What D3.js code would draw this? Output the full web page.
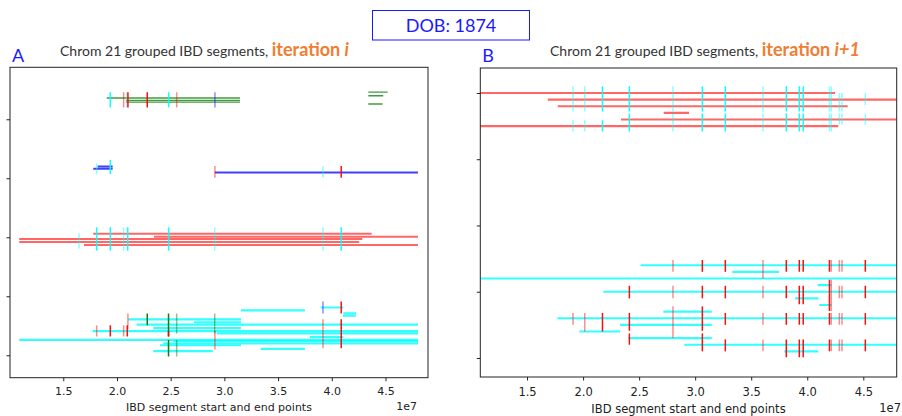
<!DOCTYPE html>
<html>
<head>
<meta charset="utf-8">
<script src="https://cdn.jsdelivr.net/npm/d3@7/dist/d3.min.js"></script>
<style>
  body { margin: 0; background: #fff; }
  svg { display: block; }
</style>
</head>
<body>
<div id="chart"></div>
<script>
// x values are in units of 1e7 bp, rows are the plot's y units
var xTicks = [1.5, 2.0, 2.5, 3.0, 3.5, 4.0, 4.5]
var yTicks = [0, 1, 2, 3, 4]

// panel A segments: [row, start, end, group]
var segmentsA = [
  [4.36, 1.904, 3.145, 'g'], [4.32, 2.083, 3.145, 'g'], [4.29, 2.083, 3.145, 'g'],
  [4.46, 4.340, 4.520, 'g'], [4.40, 4.340, 4.479, 'g'], [4.26, 4.340, 4.473, 'g'],
  [3.20, 1.820, 1.960, 'b'], [3.16, 1.779, 1.960, 'b'], [3.10, 2.912, 4.803, 'b'],
  [2.06, 1.779, 4.371, 'r'], [2.01, 2.345, 4.803, 'r'], [1.97, 1.090, 4.284, 'r'],
  [1.92, 1.090, 4.256, 'r'], [1.87, 1.693, 4.803, 'r'],
  [0.81, 3.897, 4.107, 'c'], [0.76, 3.155, 3.750, 'c'], [0.71, 4.107, 4.225, 'c'],
  [0.67, 4.101, 4.225, 'c'], [0.61, 2.105, 3.155, 'c'], [0.56, 2.717, 3.155, 'c'],
  [0.52, 2.183, 4.803, 'c'], [0.46, 2.338, 3.155, 'c'], [0.41, 1.774, 4.803, 'c'],
  [0.37, 2.928, 4.803, 'c'], [0.31, 3.797, 4.107, 'c'], [0.26, 1.090, 4.803, 'c'],
  [0.24, 2.524, 4.803, 'c'], [0.20, 2.431, 4.803, 'c'], [0.17, 2.400, 3.155, 'c'],
  [0.11, 3.338, 3.750, 'c'], [0.07, 2.338, 2.891, 'c']
]

// panel A end point marks: [position, row low, row high, group, count]
var marksA = [
  [1.938, 4.20, 4.46, 'c', 2], [2.062, 4.20, 4.46, 'r', 1], [2.090, 4.20, 4.46, 'c', 1],
  [2.102, 4.20, 4.46, 'r', 2], [2.282, 4.20, 4.46, 'r', 2], [2.481, 4.20, 4.46, 'c', 2],
  [2.556, 4.20, 4.46, 'r', 1], [2.912, 4.20, 4.46, 'b', 1],
  [1.811, 3.07, 3.25, 'c', 1], [1.938, 3.07, 3.31, 'c', 2], [2.912, 3.01, 3.21, 'r', 1],
  [3.918, 3.01, 3.21, 'c', 1], [4.088, 3.01, 3.21, 'r', 2],
  [1.646, 1.81, 2.07, 'c', 1], [1.811, 1.77, 2.17, 'c', 2], [1.938, 1.77, 2.17, 'c', 2],
  [2.062, 1.77, 2.17, 'c', 1], [2.100, 1.77, 2.17, 'c', 2], [2.481, 1.77, 2.17, 'c', 2],
  [2.910, 1.77, 2.17, 'c', 1], [3.918, 1.77, 2.17, 'c', 1], [4.088, 1.77, 2.17, 'c', 2],
  [3.918, 0.71, 0.91, 'b', 1], [4.088, 0.71, 0.91, 'r', 2], [2.102, 0.44, 0.71, 'r', 1],
  [2.096, 0.32, 0.51, 'r', 2], [1.811, 0.32, 0.51, 'r', 1], [1.938, 0.32, 0.51, 'r', 2],
  [2.062, 0.32, 0.51, 'r', 1], [2.282, 0.51, 0.71, 'g', 2], [2.480, 0.32, 0.71, 'g', 2],
  [2.480, 0.32, 0.41, 'r', 2], [2.480, -0.02, 0.26, 'g', 2], [2.556, 0.37, 0.71, 'g', 1],
  [2.556, -0.02, 0.26, 'g', 1], [2.910, 0.37, 0.71, 'g', 1], [2.912, 0.10, 0.41, 'r', 1],
  [3.918, 0.12, 0.61, 'r', 1], [4.088, 0.12, 0.61, 'r', 2]
]

// panel B segments
var segmentsB = [
  [4.0, 1.050, 4.248, 'r'], [3.9, 1.685, 4.798, 'r'], [3.8, 1.774, 4.361, 'r'],
  [3.7, 2.719, 2.945, 'r'], [3.6, 2.339, 4.798, 'r'], [3.5, 1.050, 4.277, 'r'],
  [1.4, 2.514, 4.798, 'c'], [1.3, 3.331, 3.748, 'c'], [1.2, 1.090, 4.798, 'c'],
  [1.1, 4.093, 4.216, 'c'], [1.0, 2.181, 4.798, 'c'], [0.9, 3.891, 4.100, 'c'],
  [0.8, 4.107, 4.216, 'c'], [0.7, 2.716, 3.148, 'c'], [0.6, 1.770, 4.798, 'c'],
  [0.5, 2.330, 3.148, 'c'], [0.4, 1.967, 2.330, 'c'], [0.3, 2.404, 3.148, 'c'],
  [0.2, 2.903, 4.798, 'c'], [0.1, 3.796, 4.099, 'c']
]

// panel B end point marks
var marksB = [
  [1.910, 3.72, 4.10, 'c', 1], [2.015, 3.72, 4.10, 'c', 1], [2.173, 3.72, 4.10, 'c', 2],
  [2.413, 3.72, 4.10, 'c', 2], [2.802, 3.72, 4.10, 'c', 1], [3.064, 3.72, 4.10, 'c', 2],
  [3.269, 3.72, 4.10, 'c', 2], [3.605, 3.72, 4.10, 'c', 1], [3.813, 3.72, 4.10, 'c', 2],
  [3.929, 3.72, 4.10, 'c', 2], [3.964, 3.72, 4.10, 'c', 2], [4.198, 3.72, 4.10, 'c', 1],
  [4.214, 3.72, 4.10, 'c', 1], [4.286, 3.72, 4.00, 'c', 1], [4.310, 3.72, 4.00, 'c', 1],
  [4.518, 3.82, 4.00, 'c', 1],
  [1.910, 3.42, 3.59, 'c', 1], [2.015, 3.42, 3.59, 'c', 1], [2.173, 3.42, 3.59, 'c', 2],
  [2.413, 3.42, 3.69, 'c', 2], [2.802, 3.42, 3.69, 'c', 1], [3.064, 3.42, 3.69, 'c', 2],
  [3.269, 3.42, 3.69, 'c', 2], [3.605, 3.42, 3.69, 'c', 1], [3.813, 3.42, 3.69, 'c', 2],
  [3.929, 3.42, 3.69, 'c', 2], [3.964, 3.42, 3.69, 'c', 2], [4.198, 3.42, 3.69, 'c', 1],
  [4.214, 3.42, 3.69, 'c', 1], [4.286, 3.52, 3.69, 'c', 1], [4.310, 3.52, 3.69, 'c', 1],
  [4.518, 3.52, 3.69, 'c', 1],
  [2.802, 1.30, 1.48, 'r', 1], [3.064, 1.30, 1.48, 'r', 2], [3.269, 1.30, 1.48, 'r', 2],
  [3.605, 1.20, 1.48, 'r', 1], [3.813, 1.30, 1.48, 'r', 2], [3.929, 1.30, 1.48, 'r', 2],
  [3.964, 1.30, 1.48, 'r', 2], [4.198, 1.30, 1.48, 'r', 2], [4.214, 1.30, 1.48, 'r', 1],
  [4.286, 1.30, 1.48, 'r', 1], [4.310, 1.30, 1.48, 'r', 1], [4.518, 1.30, 1.48, 'r', 2],
  [2.413, 0.90, 1.09, 'r', 2], [2.802, 0.90, 1.09, 'r', 1], [3.064, 0.90, 1.09, 'r', 2],
  [3.269, 0.90, 1.09, 'r', 2], [3.605, 0.90, 1.09, 'r', 1], [3.813, 0.90, 1.09, 'r', 2],
  [3.929, 0.81, 1.09, 'r', 2], [3.964, 0.81, 1.09, 'r', 2], [4.198, 0.71, 1.18, 'r', 2],
  [4.214, 0.71, 1.18, 'r', 1], [4.286, 0.90, 1.09, 'r', 1], [4.310, 0.90, 1.09, 'r', 1],
  [4.518, 0.90, 1.09, 'r', 2],
  [1.910, 0.50, 0.68, 'r', 1], [2.015, 0.40, 0.68, 'r', 1], [2.173, 0.40, 0.68, 'r', 2],
  [2.413, 0.41, 0.68, 'r', 2], [2.413, 0.20, 0.37, 'r', 2], [2.802, 0.30, 0.78, 'r', 1],
  [3.064, 0.41, 0.78, 'r', 2], [3.064, 0.10, 0.37, 'r', 2], [3.269, 0.50, 0.68, 'r', 2],
  [3.605, 0.50, 0.68, 'r', 1], [3.813, 0.50, 0.68, 'r', 2], [3.929, 0.50, 0.68, 'r', 2],
  [3.964, 0.50, 0.68, 'r', 2], [4.198, 0.50, 0.68, 'r', 2], [4.214, 0.50, 0.68, 'r', 1],
  [4.286, 0.50, 0.68, 'r', 1], [4.310, 0.50, 0.68, 'r', 1], [4.518, 0.50, 0.68, 'r', 2],
  [3.269, 0.10, 0.28, 'r', 2], [3.605, 0.10, 0.28, 'r', 1], [3.813, 0.01, 0.28, 'r', 2],
  [3.929, 0.01, 0.28, 'r', 2], [3.964, 0.01, 0.28, 'r', 2], [4.198, 0.10, 0.28, 'r', 2],
  [4.214, 0.10, 0.28, 'r', 1], [4.286, 0.10, 0.28, 'r', 1], [4.310, 0.10, 0.28, 'r', 1],
  [4.518, 0.10, 0.28, 'r', 2]
]

var colour = d3.scaleOrdinal()
  .domain(['r', 'c', 'b', 'g'])
  .range(['#ff0000', '#00ffff', '#0000ff', '#007a00'])
var lineAlpha = d3.scaleOrdinal()
  .domain(['r', 'c', 'b', 'g'])
  .range([0.6, 0.8, 0.75, 0.75])
var lineWidth = d3.scaleOrdinal()
  .domain(['r', 'c', 'b', 'g'])
  .range([2.1, 2.2, 2, 1.4])
var markAlpha = d3.scaleOrdinal().domain([1, 2]).range([0.45, 0.95])

var svg = d3.select('#chart').append('svg')
  .attr('width', 902)
  .attr('height', 416)
  .style('font-family', 'Lato, sans-serif')

// DOB box
svg.append('rect')
  .attr('x', 372.5).attr('y', 10.5).attr('width', 157).attr('height', 29.5)
  .attr('fill', 'none').attr('stroke', '#1a1aff').attr('stroke-width', 1)
svg.append('text')
  .attr('x', 451).attr('y', 32)
  .attr('text-anchor', 'middle')
  .attr('fill', '#1a1aff')
  .style('font-size', '18px')
  .text('DOB: 1874')

var panels = [
  { name: 'A', left: 10, top: 67.3, width: 418, height: 310.4, xDomain: [1.004, 4.896], yDomain: [-0.38, 4.881],
    segments: segmentsA, marks: marksA, iter: 'i', fontSize: 11, pad: 6.5, titleX: 60, labelY: 411, offsetX: 417 },
  { name: 'B', left: 480.3, top: 68, width: 416.4, height: 309, xDomain: [1.083, 4.798], yDomain: [-0.287, 4.377],
    segments: segmentsB, marks: marksB, iter: 'i+1', fontSize: 11.5, pad: 7.5, titleX: 550, labelY: 413, offsetX: 901 }
]

panels.forEach(function (p) {
  var x = d3.scaleLinear().domain(p.xDomain).range([0, p.width])
  var y = d3.scaleLinear().domain(p.yDomain).range([p.height, 0])

  var g = svg.append('g').attr('transform', 'translate(' + p.left + ',' + p.top + ')')

  g.append('clipPath').attr('id', 'clip' + p.name)
    .append('rect').attr('width', p.width).attr('height', p.height)

  var plot = g.append('g').attr('clip-path', 'url(#clip' + p.name + ')')

  plot.selectAll('line.seg')
    .data(p.segments)
    .join('line')
    .attr('class', 'seg')
    .attr('x1', function (d) { return x(d[1]) })
    .attr('x2', function (d) { return x(d[2]) })
    .attr('y1', function (d) { return y(d[0]) })
    .attr('y2', function (d) { return y(d[0]) })
    .attr('stroke', function (d) { return colour(d[3]) })
    .attr('stroke-opacity', function (d) { return lineAlpha(d[3]) })
    .attr('stroke-width', function (d) { return lineWidth(d[3]) })

  plot.selectAll('line.mark')
    .data(p.marks)
    .join('line')
    .attr('class', 'mark')
    .attr('x1', function (d) { return x(d[0]) })
    .attr('x2', function (d) { return x(d[0]) })
    .attr('y1', function (d) { return y(d[1]) })
    .attr('y2', function (d) { return y(d[2]) })
    .attr('stroke', function (d) { return colour(d[3]) })
    .attr('stroke-opacity', function (d) { return markAlpha(d[4]) })
    .attr('stroke-width', 1.5)

  // axes
  var xAxis = g.append('g')
    .attr('transform', 'translate(0,' + p.height + ')')
    .call(d3.axisBottom(x).tickValues(xTicks).tickSize(3.5).tickPadding(p.pad).tickFormat(d3.format('.1f')))
  var yAxis = g.append('g')
    .call(d3.axisLeft(y).tickValues(yTicks).tickSize(3.5).tickFormat(''))
  ;[xAxis, yAxis].forEach(function (a) {
    a.select('.domain').remove()
    a.selectAll('line').attr('stroke', '#222')
    a.selectAll('text')
      .attr('fill', '#222')
      .style('font-family', '"DejaVu Sans", sans-serif')
      .style('font-size', p.fontSize + 'px')
  })

  g.append('rect')
    .attr('width', p.width).attr('height', p.height)
    .attr('fill', 'none').attr('stroke', '#222').attr('stroke-width', 1)

  // labels
  svg.append('text')
    .attr('x', p.left + p.width / 2).attr('y', p.labelY)
    .attr('text-anchor', 'middle')
    .attr('fill', '#222')
    .style('font-family', '"DejaVu Sans", sans-serif')
    .style('font-size', p.fontSize + 'px')
    .text('IBD segment start and end points')
  svg.append('text')
    .attr('x', p.offsetX).attr('y', p.labelY - 1)
    .attr('text-anchor', 'end')
    .attr('fill', '#222')
    .style('font-family', '"DejaVu Sans", sans-serif')
    .style('font-size', p.fontSize + 'px')
    .text('1e7')

  svg.append('text')
    .attr('x', p.left + 2).attr('y', 61.5)
    .attr('fill', '#1a1aff')
    .style('font-size', '18px')
    .text(p.name)

  var title = svg.append('text')
    .attr('x', p.titleX).attr('y', 56)
    .attr('fill', '#333')
    .style('font-size', '14px')
  title.append('tspan').text('Chrom 21 grouped IBD segments, ')
  title.append('tspan')
    .attr('fill', '#f07d32')
    .style('font-size', '18px')
    .style('font-weight', 'bold')
    .text('iteration ')
  title.append('tspan')
    .attr('fill', '#f07d32')
    .style('font-size', '18px')
    .style('font-style', 'italic')
    .style('font-weight', 'bold')
    .text(p.iter)
})
</script>
</body>
</html>
